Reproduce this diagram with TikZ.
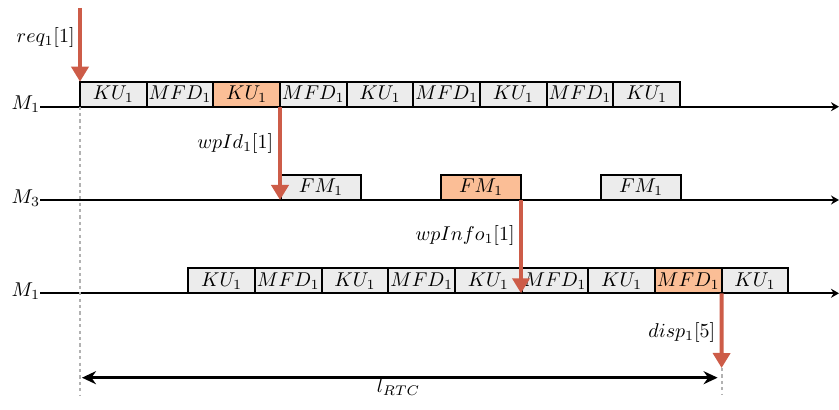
\documentclass[tikz,border=0pt]{standalone}
\usetikzlibrary{arrows.meta,calc}
\definecolor{arrred}{RGB}{205,92,72}
\definecolor{hl}{RGB}{251,190,150}
\begin{document}
\begin{tikzpicture}[x=0.5pt,y=-0.5pt,
  blk/.style={draw=black,line width=1pt,fill=gray!15,minimum height=12.5pt,minimum width=33.33pt,inner sep=0pt,outer sep=0pt,anchor=south west},
  fmblk/.style={blk,minimum width=40pt},
  hot/.style={fill=hl},
  axisline/.style={line width=1pt,-{Stealth[length=4pt,width=4.5pt]}},
  sig/.style={draw=arrred,line width=2pt,-{Triangle[length=7.5pt,width=8.5pt]}},
  guide/.style={draw=gray!60,line width=0.9pt,dash pattern=on 1.6pt off 1.6pt},
  lbl/.style={inner sep=0pt},
  mlbl/.style={inner sep=0pt,anchor=base east}]
\useasboundingbox (0,0) rectangle (839,410);

% axes
\coordinate (a1s) at (40,106.7); \coordinate (a1e) at (839,106.7);
\coordinate (a2s) at (40,200);   \coordinate (a2e) at (839,200);
\coordinate (a3s) at (40,293.3); \coordinate (a3e) at (839,293.3);
\draw[axisline] (a1s) -- (a1e);
\draw[axisline] (a2s) -- (a2e);
\draw[axisline] (a3s) -- (a3e);
\node[mlbl] (m1) at (40.5,110) {$M_1$};
\node[mlbl] (m3) at (40.5,203.3) {$M_3$};
\node[mlbl] (m1b) at (40.5,296.8) {$M_1$};

% row 1
\foreach \i/\t/\s in {1/KU/,2/MFD/,3/KU/hot,4/MFD/,5/KU/,6/MFD/,7/KU/,8/MFD/,9/KU/}{
  \node[blk,\s] (r1-\i) at ({80+(\i-1)*66.667},106.7) {$\t_1$};
}
% row 2
\foreach \i/\x/\s in {1/281/,2/441/hot,3/601/}{
  \node[fmblk,\s] (r2-\i) at (\x,200) {$FM_1$};
}
% row 3
\foreach \i/\t/\s in {1/KU/,2/MFD/,3/KU/,4/MFD/,5/KU/,6/MFD/,7/KU/,8/MFD/hot,9/KU/}{
  \node[blk,\s] (r3-\i) at ({188.3+(\i-1)*66.667},293.3) {$\t_1$};
}

% guide lines
\coordinate (g1) at (80,396);
\coordinate (dispend) at (721.6,368);
\coordinate (g2) at (721.6,394);
\draw[guide] (r1-1.south west) -- (g1);
\draw[guide] (dispend) -- (g2);

% signals
\coordinate (reqs) at (80,8);
\draw[sig] (reqs) -- (r1-1.north west);
\node[lbl,anchor=east] (lreq) at (75,37.7) {$req_1[1]$};

\coordinate (wpIdEnd) at (r1-3.south east |- a2s);
\draw[sig] (r1-3.south east) -- (wpIdEnd);
\node[lbl,anchor=east] (lwpid) at (273.5,143.7) {$wpId_1[1]$};

\coordinate (wpInfoEnd) at (r2-2.south east |- a3s);
\draw[sig] (r2-2.south east) -- (wpInfoEnd);
\node[lbl,anchor=east] (lwpinfo) at (515,236) {$wpInfo_1[1]$};

\draw[sig] (r3-8.south east) -- (dispend);
\node[lbl,anchor=east] (ldisp) at (715.7,332.5) {$disp_1[5]$};

% RTC span
\coordinate (rl) at (80,377.7);
\coordinate (rr) at (721.6,377.7);
\draw[line width=1.3pt,{Stealth[length=7pt,width=6.5pt]}-{Stealth[length=7pt,width=6.5pt]},shorten <=1pt,shorten >=2pt] (rl) -- (rr);
\node[lbl] (lrtc) at (398.5,387) {$l_{RTC}$};
\end{tikzpicture}
\end{document}
